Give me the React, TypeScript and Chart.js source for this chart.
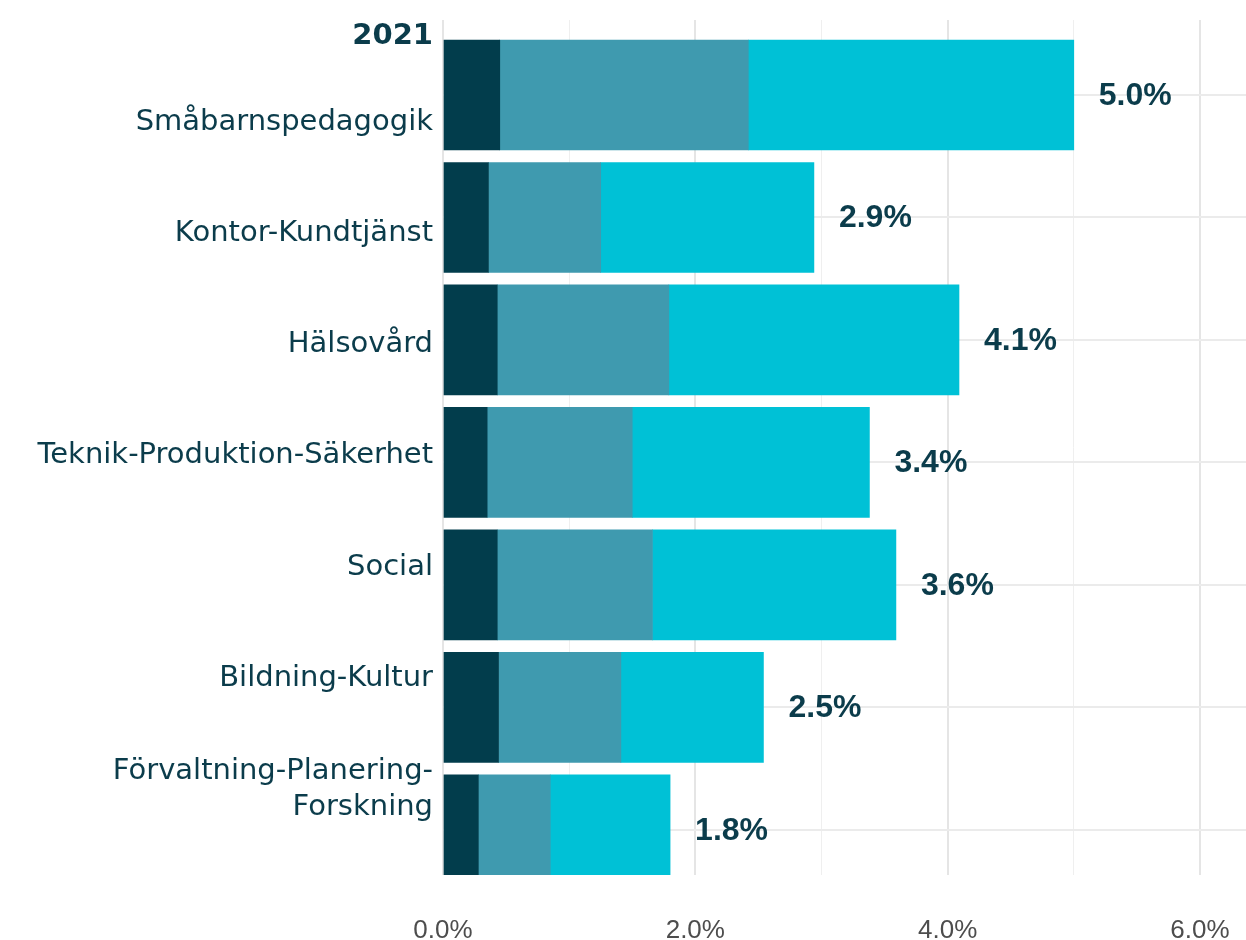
import React, { useEffect, useRef } from "react";
import { Chart, registerables } from "chart.js";

Chart.register(...registerables);

// ---- Data ----
const yearLabel = "2021";
const categories: (string | string[])[] = [
  "Småbarnspedagogik",
  "Kontor-Kundtjänst",
  "Hälsovård",
  "Teknik-Produktion-Säkerhet",
  "Social",
  "Bildning-Kultur",
  ["Förvaltning-Planering-", "Forskning"],
];
const seriesNames = ["Del 1", "Del 2", "Del 3"];
const part1 = [0.45, 0.36, 0.43, 0.35, 0.43, 0.44, 0.28];
const part2 = [1.97, 0.89, 1.36, 1.15, 1.23, 0.97, 0.57];
const part3 = [2.58, 1.69, 2.30, 1.88, 1.93, 1.13, 0.95];
const xTickValues = [0, 1, 2, 3, 4, 5, 6];

// ---- Styles ----
const colors = ["#023d4c", "#3f9aaf", "#00c1d6"];
const textColor = "#0b3c4b";
const gridColor = "#ebebeb";

const zeroPad = (scale: any) => {
  scale.paddingTop = 0;
  scale.paddingBottom = 0;
  scale.paddingLeft = 0;
  scale.paddingRight = 0;
};

export default function App() {
  const canvasRef = useRef<HTMLCanvasElement | null>(null);

  useEffect(() => {
    const canvas = canvasRef.current;
    if (!canvas) return;
    const series = [part1, part2, part3];
    const totals = part1.map((_, i) => series.reduce((s, arr) => s + arr[i], 0));

    const valueLabels = {
      id: "valueLabels",
      afterDatasetsDraw(chart: any) {
        const { ctx, scales, chartArea } = chart;
        const xs = scales.x;
        const ys = scales.y;
        ctx.save();
        ctx.font = 'bold 32px "Liberation Sans", Arial, sans-serif';
        ctx.fillStyle = textColor;
        ctx.textAlign = "left";
        ctx.textBaseline = "middle";
        totals.forEach((t, i) => {
          const x = xs.getPixelForValue(t) + 25;
          const y = ys.getPixelForValue(i) + 1;
          ctx.fillText(t.toFixed(1) + "%", x, y);
        });
        // facet / year label
        ctx.font = 'bold 29px "DejaVu Sans", sans-serif';
        ctx.textAlign = "right";
        ctx.fillText(yearLabel, chartArea.left - 10, chartArea.top + 16);
        ctx.restore();
      },
    };

    const chart = new Chart(canvas, {
      type: "bar",
      data: {
        datasets: series.map((arr, k) => ({
          label: seriesNames[k],
          data: arr.map((v, i) => ({ x: v, y: i })),
          backgroundColor: colors[k],
          borderWidth: 0,
          barThickness: 110,
        })),
      },
      options: {
        indexAxis: "y",
        responsive: false,
        animation: false,
        devicePixelRatio: 1,
        layout: { padding: { top: 20, left: 0, right: 0, bottom: 0 } },
        plugins: {
          legend: { display: false },
          tooltip: { enabled: false },
          title: { display: false },
        },
        scales: {
          x: {
            type: "linear",
            stacked: true,
            offset: false,
            min: 0,
            max: 6.365,
            afterBuildTicks: (scale: any) => {
              scale.ticks = xTickValues.map((v) => ({ value: v }));
            },
            afterFit: (scale: any) => {
              scale.height = 65;
              zeroPad(scale);
            },
            border: { display: false },
            grid: {
              offset: false,
              drawTicks: false,
              color: (c: any) => (c.tick && c.tick.value % 2 === 0 ? "#e5e5e5" : "#efefef"),
              lineWidth: (c: any) => (c.tick && c.tick.value % 2 === 0 ? 2 : 1),
            },
            ticks: {
              autoSkip: false,
              maxRotation: 0,
              padding: 43,
              color: "#4d4d4d",
              font: { family: '"Liberation Sans", Arial, sans-serif', size: 26, lineHeight: 1 },
              callback: (v: any) => (Number(v) % 2 === 0 ? Number(v).toFixed(1) + "%" : ""),
            },
          },
          y: {
            type: "linear",
            position: "left",
            stacked: true,
            reverse: true,
            offset: false,
            min: -0.612,
            max: 6.368,
            afterBuildTicks: (scale: any) => {
              scale.ticks = categories.map((_, i) => ({ value: i }));
            },
            afterFit: (scale: any) => {
              scale.width = 0;
              zeroPad(scale);
            },
            border: { display: false },
            grid: { offset: false, drawTicks: false, color: gridColor, lineWidth: 2 },
            ticks: { display: false },
          },
          y2: {
            type: "linear",
            position: "left",
            reverse: true,
            offset: false,
            min: -0.919,
            max: 6.77,
            afterBuildTicks: (scale: any) => {
              scale.ticks = categories.map((_, i) => ({ value: i }));
            },
            afterFit: (scale: any) => {
              scale.width = 443;
              zeroPad(scale);
            },
            border: { display: false },
            grid: { display: false, drawTicks: false, offset: false },
            ticks: {
              autoSkip: false,
              padding: 10,
              color: textColor,
              font: { family: '"DejaVu Sans", sans-serif', size: 29, lineHeight: 1.26 },
              callback: (_v: any, i: number) => categories[i] as any,
            },
          },
        },
      },
      plugins: [valueLabels],
    } as any);

    return () => chart.destroy();
  }, []);

  return (
    <div style={{ position: "absolute", left: 0, top: 0, width: 1246, height: 940, background: "#fff" }}>
      <canvas ref={canvasRef} width={1246} height={940} style={{ width: 1246, height: 940, display: "block" }} />
    </div>
  );
}
